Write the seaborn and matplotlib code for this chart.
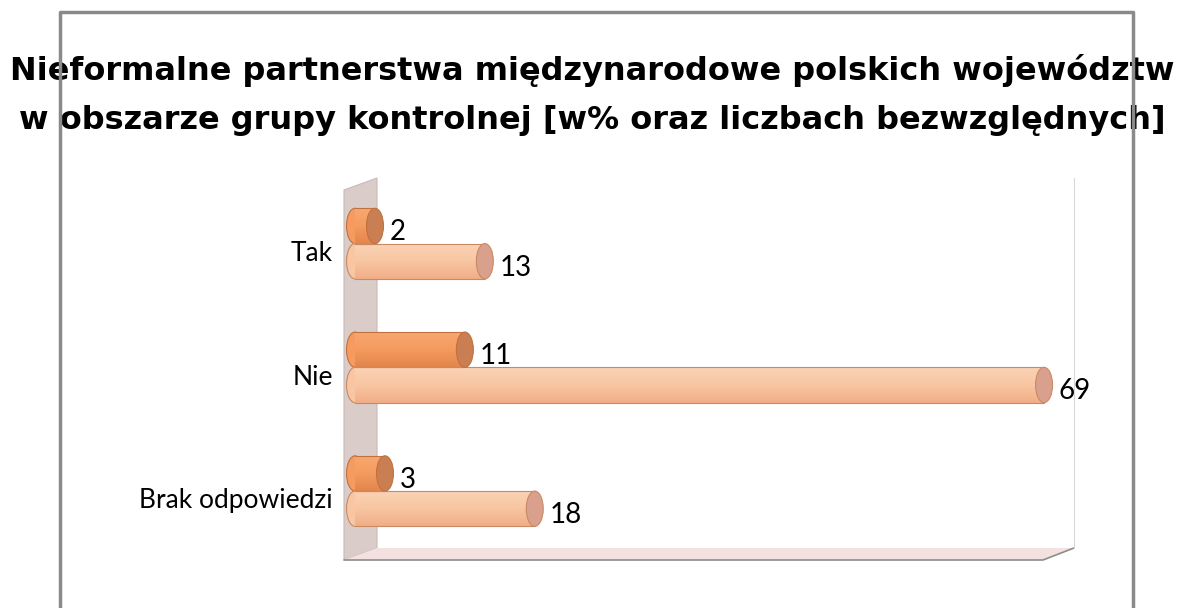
import numpy as np
import pandas as pd
import matplotlib
matplotlib.use("Agg")
import matplotlib.pyplot as plt
import seaborn as sns
from matplotlib.patches import Ellipse, Polygon
from matplotlib.lines import Line2D
from matplotlib.colors import LinearSegmentedColormap

# data
categories = ["Tak", "Nie", "Brak odpowiedzi"]
series_names = ["liczba", "%"]
counts = [2, 11, 3]
percents = [13, 69, 18]

title = ("Nieformalne partnerstwa międzynarodowe polskich województw\n"
         "w obszarze grupy kontrolnej [w% oraz liczbach bezwzględnych]")

df = pd.DataFrame({
    "kategoria": categories * 2,
    "seria": [series_names[0]] * 3 + [series_names[1]] * 3,
    "wartosc": counts + percents,
})

W, H = 1184, 608
sns.set_style("white")
plt.rcParams["font.family"] = ["Lato", "DejaVu Sans"]

fig = plt.figure(figsize=(W / 100, H / 100), dpi=100)
fig.patch.set_facecolor("white")


def px(x, y):
    # pixel position (from top-left) -> figure fraction
    return (x / W, 1 - y / H)


# 3d-ish back wall and floor (behind the axes)
wall = Polygon([px(344, 190), px(377, 178), px(377, 548), px(344, 560)],
               closed=True, transform=fig.transFigure, facecolor="#D9CCC9",
               edgecolor="#C9BAB7", lw=0.8, zorder=-2)
floor = Polygon([px(344, 560), px(377, 548), px(1074, 548), px(1043, 560)],
                closed=True, transform=fig.transFigure, facecolor="#F3E1DF",
                edgecolor="none", zorder=-2)
fig.patches.extend([wall, floor])
fig.lines.append(Line2D([344 / W, 1043 / W, 1074 / W],
                        [1 - 560 / H, 1 - 560 / H, 1 - 548 / H],
                        transform=fig.transFigure, color="#8C8C8C", lw=1.2,
                        zorder=-1))
fig.lines.append(Line2D([1074 / W, 1074 / W], [1 - 178 / H, 1 - 548 / H],
                        transform=fig.transFigure, color="#D8D8D8", lw=0.8,
                        zorder=-1))

ax = fig.add_axes([355 / W, 1 - 548 / H, 719 / W, 370 / H])
ax.set_facecolor("none")
ax.set_zorder(1)

sns.barplot(data=df, y="kategoria", x="wartosc", hue="seria", orient="h",
            order=categories, hue_order=series_names, width=0.57,
            palette=["#F39A60", "#F8C4A0"], dodge=True, legend=False, ax=ax)
ax.set_xlim(0, 72)
ax.set_xlabel("")
ax.set_ylabel("")
ax.set_xticks([])
ax.set_yticks([])
sns.despine(ax=ax, left=True, bottom=True)

# cylinder look: gradient fill + end caps
styles = {
    0: dict(grad=["#F7A86F", "#F59B60", "#E3864C"], cap="#C97F52", edge="#C0713F"),
    1: dict(grad=["#FAD3B6", "#F8C6A2", "#F1AE88"], cap="#D9A08E", edge="#C98A62"),
}
cap_w = 1.7
bars = list(ax.patches)
for i, bar in enumerate(bars):
    s = styles[i // len(categories)]
    x0, y0 = bar.get_x(), bar.get_y()
    w, h = bar.get_width(), bar.get_height()
    bar.set_facecolor("none")
    bar.set_edgecolor("none")
    bar.set_zorder(3)
    cmap = LinearSegmentedColormap.from_list("g", s["grad"])
    grad = np.linspace(0, 1, 64).reshape(-1, 1)
    im = ax.imshow(grad, cmap=cmap, aspect="auto", zorder=2,
                   extent=(x0, x0 + w, y0 + h, y0), interpolation="bilinear")
    im.set_clip_path(bar)
    # top and bottom outline of the cylinder
    ax.plot([x0, x0 + w], [y0, y0], color=s["edge"], lw=0.8, zorder=3)
    ax.plot([x0, x0 + w], [y0 + h, y0 + h], color=s["edge"], lw=0.8, zorder=3)
    left_cap = Ellipse((x0, y0 + h / 2), cap_w, h, facecolor=s["grad"][1],
                       edgecolor=s["edge"], lw=0.8, zorder=1)
    right_cap = Ellipse((x0 + w, y0 + h / 2), cap_w, h, facecolor=s["cap"],
                        edgecolor=s["edge"], lw=0.8, zorder=4)
    ax.add_patch(left_cap)
    ax.add_patch(right_cap)
    ax.text(x0 + w + cap_w / 2 + 0.6, y0 + h * 0.68, f"{int(w)}",
            fontsize=20, color="black", ha="left", va="center", zorder=5)

ax.set_ylim(2.46, -0.53)
for p in ax.patches:
    p.set_clip_on(False)

# category labels
for j, cat in enumerate(categories):
    ax.text(-2.2, j + 0.08, cat, fontsize=19, ha="right", va="center",
            color="black")

fig.text(0.5, 1 - 95 / H, title, ha="center", va="center", fontsize=23,
         fontweight="bold", family="DejaVu Sans", linespacing=1.76,
         color="black")

# outer frame
fig.lines.append(Line2D([60 / W, 60 / W, 1133 / W, 1133 / W],
                        [0, 1 - 12 / H, 1 - 12 / H, 0],
                        transform=fig.transFigure, color="#8A8A8A", lw=2.5,
                        zorder=10))

fig.savefig("out.png", dpi=100)
